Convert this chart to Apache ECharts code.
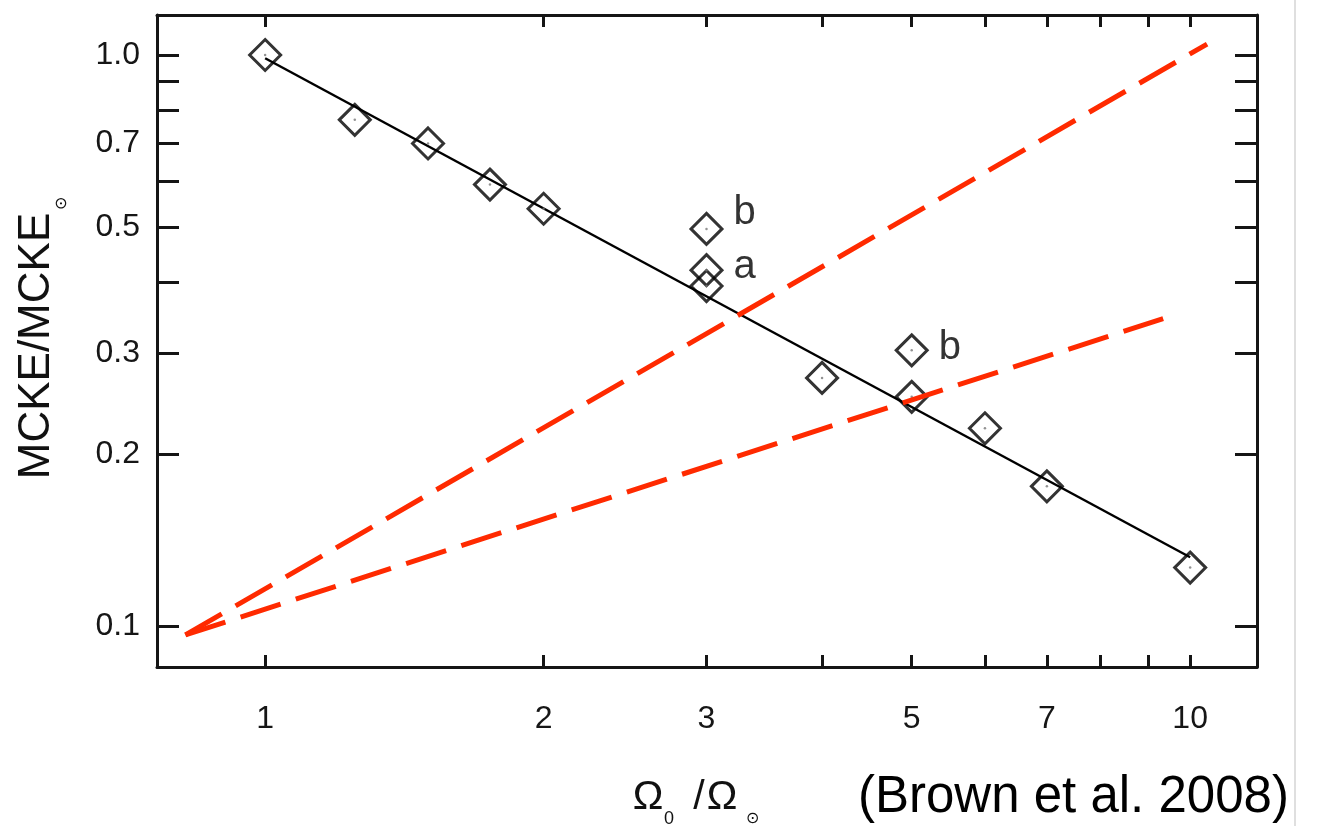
<!DOCTYPE html>
<html>
<head>
<meta charset="utf-8">
<script src="https://cdn.jsdelivr.net/npm/echarts@6/dist/echarts.min.js"></script>
<style>
  html, body { margin: 0; padding: 0; background: #fff; }
  #chart { width: 1334px; height: 826px; }
</style>
</head>
<body>
<div id="chart"></div>
<script>
// ---- data ----
const pointX = [1, 1.25, 1.5, 1.75, 2, 3, 3, 3, 4, 5, 5, 6, 7, 10];
const pointY = [1.0, 0.77, 0.70, 0.593, 0.538, 0.496, 0.420, 0.394, 0.272, 0.304, 0.252, 0.222, 0.1757, 0.1266];
const pointLabels = ['', '', '', '', '', 'b', 'a', '', '', 'b', '', '', '', ''];

const fitX = [1, 10];
const fitY = [0.987, 0.132];

const redSteepX = [0.82, 10.43];
const redSteepY = [0.0965, 1.045];
const redShallowX = [0.82, 9.35];
const redShallowY = [0.0965, 0.3455];

const xTickValues = [1, 2, 3, 4, 5, 6, 7, 8, 9, 10];
const xLabelValues = [1, 2, 3, 5, 7, 10];
const yTickValues = [0.1, 0.2, 0.3, 0.4, 0.5, 0.6, 0.7, 0.8, 0.9, 1.0];
const yLabelValues = [0.1, 0.2, 0.3, 0.5, 0.7, 1.0];

const xRange = [0.764, 11.81];
const yRange = [0.0848, 1.175];

// ---- styling ----
const FONT = "'Liberation Sans', Arial, Helvetica, sans-serif";
const AX = '#151515';
const RED = '#ff2a00';
const labelOffsets = { 5: [0, -16], 6: [0, -3], 9: [0, -2] };

function pairs(xs, ys) { return xs.map((x, i) => [x, ys[i]]); }

const scatterData = pointX.map((x, i) => {
  const item = { value: [x, pointY[i]] };
  if (pointLabels[i]) {
    item.label = {
      show: true, formatter: pointLabels[i], position: 'right', distance: 10,
      offset: labelOffsets[i] || [0, 0],
      fontSize: 40, fontFamily: FONT, color: '#000'
    };
  }
  return item;
});

const chart = echarts.init(document.getElementById('chart'), null, { renderer: 'canvas' });

const xAxisBase = {
  type: 'log', logBase: 10, min: xRange[0], max: xRange[1],
  splitLine: { show: false },
  axisLine: { show: true, onZero: false, lineStyle: { color: AX, width: 3 } }
};
const yAxisBase = {
  type: 'log', logBase: 10, min: yRange[0], max: yRange[1],
  splitLine: { show: false },
  axisLine: { show: true, onZero: false, lineStyle: { color: AX, width: 3 } }
};

const option = {
  backgroundColor: '#fff',
  animation: false,
  grid: { left: 157, right: 77, top: 15, bottom: 159, containLabel: false },
  xAxis: [
    Object.assign({}, xAxisBase, {
      position: 'bottom',
      axisTick: { show: true, inside: true, length: 12, lineStyle: { color: AX, width: 3 }, customValues: xTickValues },
      axisLabel: {
        show: true, margin: 36, fontSize: 32, fontFamily: FONT, color: '#161616',
        customValues: xLabelValues, formatter: v => String(Math.round(v))
      }
    }),
    Object.assign({}, xAxisBase, {
      position: 'top',
      axisTick: { show: true, inside: true, length: 12, lineStyle: { color: AX, width: 3 }, customValues: xTickValues },
      axisLabel: { show: false }
    })
  ],
  yAxis: [
    Object.assign({}, yAxisBase, {
      position: 'left',
      axisTick: { show: true, inside: true, length: 22, lineStyle: { color: AX, width: 3 }, customValues: yTickValues },
      axisLabel: {
        show: true, margin: 17, fontSize: 32, fontFamily: FONT, color: '#161616',
        customValues: yLabelValues, formatter: v => (Math.abs(v - 1) < 1e-9 ? '1.0' : String(Math.round(v * 10) / 10))
      }
    }),
    Object.assign({}, yAxisBase, {
      position: 'right',
      axisTick: { show: true, inside: true, length: 22, lineStyle: { color: AX, width: 3 }, customValues: yTickValues },
      axisLabel: { show: false }
    })
  ],
  series: [
    {
      type: 'line', xAxisIndex: 0, yAxisIndex: 0,
      data: pairs(fitX, fitY), showSymbol: false, symbol: 'none',
      lineStyle: { color: '#000', width: 2.5 }, z: 2, silent: true
    },
    {
      type: 'scatter', xAxisIndex: 0, yAxisIndex: 0,
      data: scatterData, symbol: 'diamond', symbolSize: 31,
      itemStyle: { color: 'rgba(0,0,0,0)', borderColor: '#000', borderWidth: 3 },
      z: 3, silent: true
    },
    {
      type: 'scatter', xAxisIndex: 0, yAxisIndex: 0,
      data: pairs(pointX, pointY), symbol: 'circle', symbolSize: 2.5,
      itemStyle: { color: '#777' }, z: 3, silent: true
    },
    {
      type: 'line', xAxisIndex: 0, yAxisIndex: 0,
      data: pairs(redSteepX, redSteepY), showSymbol: false, symbol: 'none',
      lineStyle: { color: RED, width: 5, type: [42, 16], cap: 'butt' }, z: 4, silent: true
    },
    {
      type: 'line', xAxisIndex: 0, yAxisIndex: 0,
      data: pairs(redShallowX, redShallowY), showSymbol: false, symbol: 'none',
      lineStyle: { color: RED, width: 5, type: [42, 16], cap: 'butt' }, z: 4, silent: true
    }
  ],
  graphic: [
    { type: 'line', shape: { x1: 1295, y1: 0, x2: 1295, y2: 826 }, style: { stroke: '#d4d4d4', lineWidth: 1.5 }, silent: true },
    // y-axis title
    { type: 'text', x: 37, y: 346, rotation: Math.PI / 2,
      style: { text: 'MCKE/MCKE', font: '44px ' + FONT, fill: '#111', align: 'center', verticalAlign: 'middle' } },
    { type: 'text', x: 62, y: 203, rotation: Math.PI / 2,
      style: { text: '⊙', font: '16px ' + FONT, fill: '#111', align: 'center', verticalAlign: 'middle' } },
    // x-axis title
    { type: 'text', x: 648, y: 798, style: { text: 'Ω', font: '41px ' + FONT, fill: '#111', align: 'center', verticalAlign: 'middle' } },
    { type: 'text', x: 669, y: 819, style: { text: '0', font: '18px ' + FONT, fill: '#111', align: 'center', verticalAlign: 'middle' } },
    { type: 'text', x: 699, y: 798, style: { text: '/', font: '41px ' + FONT, fill: '#111', align: 'center', verticalAlign: 'middle' } },
    { type: 'text', x: 722, y: 798, style: { text: 'Ω', font: '41px ' + FONT, fill: '#111', align: 'center', verticalAlign: 'middle' } },
    { type: 'text', x: 752, y: 819, style: { text: '⊙', font: '16px ' + FONT, fill: '#111', align: 'center', verticalAlign: 'middle' } },
    // citation
    { type: 'text', x: 858, y: 798, style: { text: '(Brown et al. 2008)', font: '51px ' + FONT, fill: '#000', align: 'left', verticalAlign: 'middle' } }
  ]
};

chart.setOption(option);
</script>
</body>
</html>
